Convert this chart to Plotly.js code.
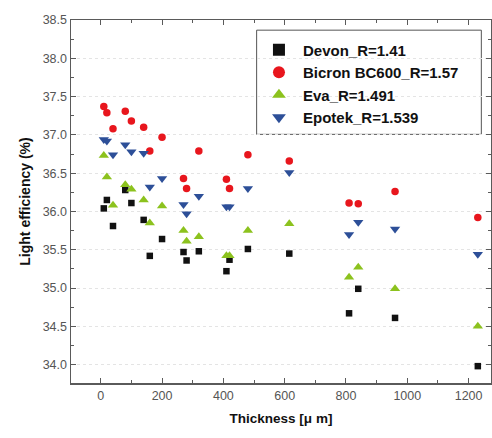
<!DOCTYPE html>
<html>
<head>
<meta charset="utf-8">
<script src="https://cdn.plot.ly/plotly-3.0.1.min.js"></script>
<style>html,body{margin:0;padding:0;background:#fff;}#chart{width:492px;height:438px;}</style>
</head>
<body>
<div id="chart"></div>
<script>
const thickness = [10, 20, 40, 80, 100, 140, 160, 200, 270, 280, 320, 410, 420, 480, 615, 810, 840, 960, 1230];
const devon  = [36.04, 36.15, 35.81, 36.28, 36.11, 35.89, 35.42, 35.64, 35.47, 35.36, 35.48, 35.22, 35.37, 35.51, 35.45, 34.67, 34.99, 34.61, 33.98];
const bicron = [37.37, 37.29, 37.08, 37.31, 37.18, 37.10, 36.79, 36.97, 36.43, 36.30, 36.79, 36.42, 36.30, 36.74, 36.66, 36.11, 36.10, 36.26, 35.92];
const eva    = [36.73, 36.45, 36.08, 36.35, 36.29, 36.15, 35.85, 36.07, 35.75, 35.61, 35.67, 35.42, 35.42, 35.75, 35.84, 35.14, 35.27, 34.99, 34.50];
const epotek = [36.94, 36.92, 36.74, 36.87, 36.78, 36.76, 36.32, 36.43, 36.09, 35.97, 36.20, 36.06, 36.06, 36.30, 36.51, 35.70, 35.86, 35.77, 35.44];
const seriesNames = ["Devon_R=1.41", "Bicron BC600_R=1.57", "Eva_R=1.491", "Epotek_R=1.539"];
const xTickVals = [0, 200, 400, 600, 800, 1000, 1200];
const yTickVals = [34.0, 34.5, 35.0, 35.5, 36.0, 36.5, 37.0, 37.5, 38.0, 38.5];

const styles = [
  {symbol: 'square', color: '#111111', size: 6.5},
  {symbol: 'circle', color: '#e8161d', size: 7.5},
  {symbol: 'triangle-up', color: '#8cc21e', size: 9},
  {symbol: 'triangle-down', color: '#2d4f98', size: 9}
];
const ys = [devon, bicron, eva, epotek];
const traces = ys.map((y, i) => ({
  type: 'scatter', mode: 'markers', x: thickness, y: y, name: seriesNames[i],
  marker: {symbol: styles[i].symbol, color: styles[i].color, size: styles[i].size, line: {width: 0}}
}));

const axisCommon = {
  showline: true, linecolor: '#5a5a5a', linewidth: 1.5, mirror: 'ticks',
  ticks: 'inside', ticklen: 5, tickcolor: '#5a5a5a', tickwidth: 1,
  tickfont: {family: 'Arial, Liberation Sans, sans-serif', size: 12.5, color: '#555555'},
  zeroline: false
};

const layout = {
  width: 492, height: 438,
  margin: {l: 71, r: 1, t: 20, b: 55},
  paper_bgcolor: '#ffffff', plot_bgcolor: '#ffffff',
  showlegend: true,
  xaxis: Object.assign({}, axisCommon, {
    range: [-97, 1273], tickvals: xTickVals, ticktext: xTickVals.map(String),
    showgrid: false,
    minor: {ticks: 'inside', dtick: 100, tick0: 0, ticklen: 3, tickcolor: '#5a5a5a', showgrid: false},
    title: {text: 'Thickness [μ m]', standoff: 12, font: {family: 'Arial, Liberation Sans, sans-serif', size: 13.5, color: '#111111', weight: 'bold'}}
  }),
  yaxis: Object.assign({}, axisCommon, {
    range: [33.76, 38.5], tickvals: yTickVals, ticktext: yTickVals.map(v => v.toFixed(1)),
    showgrid: true, gridcolor: '#e4e4e4', griddash: 'dot', gridwidth: 1,
    minor: {ticks: 'inside', dtick: 0.25, tick0: 34.0, ticklen: 3, tickcolor: '#5a5a5a', showgrid: false},
    title: {text: 'Light efficiency (%)', standoff: 9, font: {family: 'Arial, Liberation Sans, sans-serif', size: 14, color: '#111111', weight: 'bold'}}
  }),
  shapes: [{
    type: 'rect', xref: 'paper', yref: 'paper', layer: 'below',
    x0: 0.442, x1: 0.977, y0: 0.685, y1: 0.972,
    line: {color: '#555555', width: 1}, fillcolor: '#ffffff'
  }],
  legend: {
    x: 0.438, y: 0.963, xanchor: 'left', yanchor: 'top',
    bgcolor: 'rgba(0,0,0,0)', borderwidth: 0, itemwidth: 38,
    font: {family: 'Arial, Liberation Sans, sans-serif', size: 15, color: '#111111', weight: 'bold'},
    itemsizing: 'constant', tracegroupgap: 0
  }
};

Plotly.newPlot('chart', traces, layout, {displayModeBar: false, staticPlot: true});
</script>
</body>
</html>
